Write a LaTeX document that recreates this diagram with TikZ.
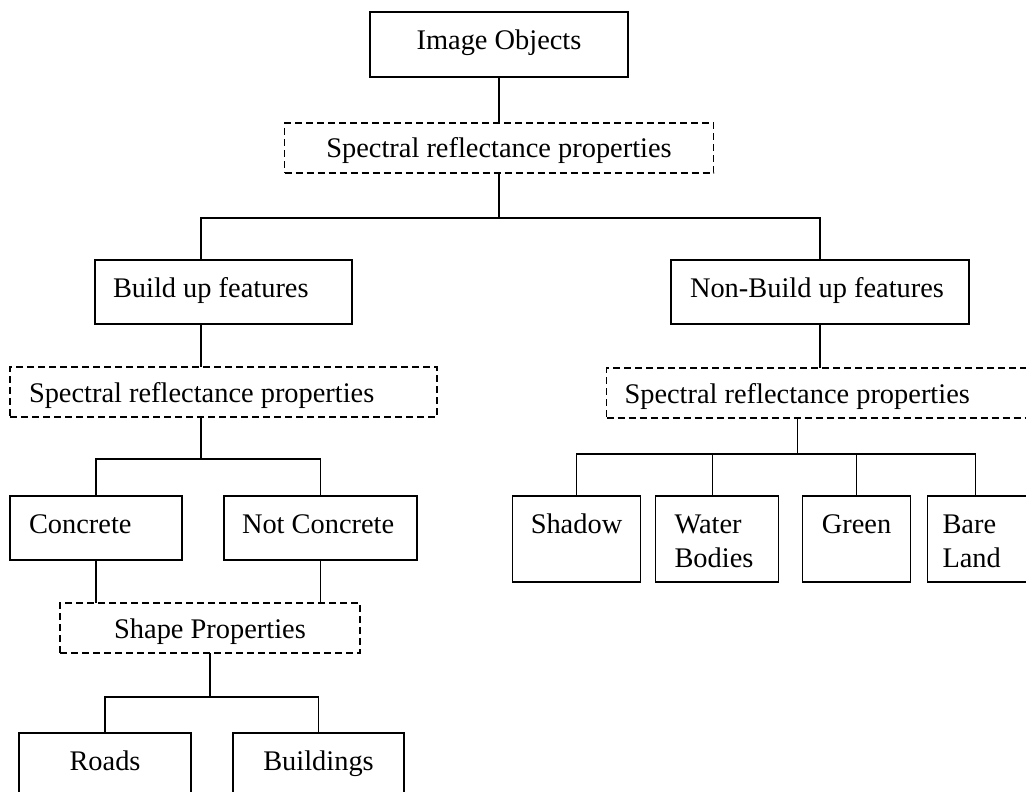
\documentclass[tikz,border=0pt]{standalone}
\usepackage{fontspec}
\setmainfont{Liberation Serif}
\usetikzlibrary{positioning}

\begin{document}
\begin{tikzpicture}
  [x=0.5pt,y=-0.5pt,line width=0.9pt,
  every node/.style={font=\fontsize{14.2}{17}\selectfont,inner sep=0pt,outer sep=0pt},
  main node/.style={draw,rectangle,minimum height=32pt,text height=18.5pt,text depth=13.5pt},
  prop node/.style={draw,rectangle,line width=0.8pt,dash pattern=on 3.5pt off 2pt,minimum height=25pt,text height=17.5pt,text depth=7.5pt},
  leaf node/.style={draw,rectangle,minimum height=43pt,text height=18.5pt,text depth=24.5pt}]
  \useasboundingbox (0,0) rectangle (1026,791);

  \node[main node,minimum width=129pt,minimum height=32.5pt] (img) at (499,44.5) {Image Objects};
  \node[prop node,minimum width=214.5pt] (spec1) [below=23pt of img] {Spectral reflectance properties};
  \node[main node,text width=110.5pt,inner xsep=9pt,align=flush left] (build) [below=43.5pt of spec1,xshift=-137.75pt] {Build up features};
  \node[main node,text width=130pt,inner xsep=9.5pt,align=flush left] (nonbuild) [below=43.5pt of spec1,xshift=160.5pt] {Non-Build up features};

  \node[prop node,text width=194.5pt,inner xsep=9.5pt,align=flush left] (spec2) [below=21.5pt of build] {Spectral reflectance properties};
  \node[main node,text width=67pt,inner xsep=9.5pt,align=flush left] (concrete) [below=39.5pt of spec2,xshift=-63.75pt] {Concrete};
  \node[main node,text width=78.5pt,inner xsep=9pt,align=flush left] (notconc) [below=39.5pt of spec2,xshift=48.5pt] {Not Concrete};
  \node[prop node,minimum width=150pt] (shape) [below=21.5pt of concrete,xshift=57pt] {Shape Properties};
  \node[main node,minimum width=86pt] (roads) [below=40pt of shape,xshift=-52.5pt] {Roads};
  \node[main node,minimum width=85.5pt] (buildings) [below=40pt of shape,xshift=54.25pt] {Buildings};

  \node[prop node,text width=195.5pt,inner xsep=9pt,align=flush left] (spec3) [below=22pt of nonbuild] {Spectral reflectance properties};
  \node[leaf node,minimum width=64pt] (shadow) [below=39pt of spec3,xshift=-121.75pt] {Shadow};
  \node[leaf node,text width=42.5pt,inner xsep=9.5pt,align=flush left] (water) [right=7.5pt of shadow] {Water\\Bodies};
  \node[leaf node,minimum width=54pt] (green) [right=12pt of water] {Green};
  \node[leaf node,text width=41pt,inner xsep=7.5pt,align=flush left] (bare) [right=8.5pt of green] {Bare\\Land};

  \coordinate (j1) at ([yshift=-22.5pt]spec1.south);
  \coordinate (j2) at ([xshift=-11.25pt,yshift=-21pt]spec2.south);
  \coordinate (j3) at ([yshift=-22pt]shape.south);
  \coordinate (j4) at ([xshift=-11.25pt,yshift=-18pt]spec3.south);

  \draw (img) -- (spec1);
  \draw (spec1) -- (j1);
  \draw ([xshift=-11.25pt]build.north) |- (j1) -| (nonbuild);
  \draw ([xshift=-11.25pt]build.south) -- ([xshift=-11.25pt]spec2.north);
  \draw ([xshift=-11.25pt]spec2.south) -- (j2);
  \draw (concrete) |- (j2) -| (notconc);
  \draw (concrete) -- (concrete |- shape.north);
  \draw (notconc) -- (notconc |- shape.north);
  \draw (shape) -- (j3);
  \draw (roads) |- (j3) -| (buildings);
  \draw (nonbuild) -- (nonbuild |- spec3.north);
  \draw ([xshift=-11.25pt]spec3.south) -- (j4);
  \draw (shadow) |- (j4) -| ([xshift=-4pt]bare.north);
  \draw ([xshift=-2.25pt]water.north) |- (j4);
  \draw (green) |- (j4);
\end{tikzpicture}
\end{document}
